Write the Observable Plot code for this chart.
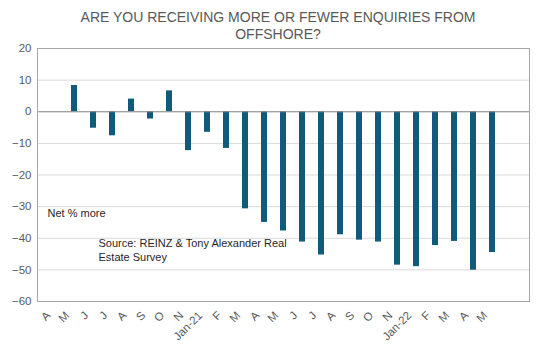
<!DOCTYPE html>
<html>
<head>
<meta charset="utf-8">
<script src="https://cdn.jsdelivr.net/npm/d3@7"></script>
<script src="https://cdn.jsdelivr.net/npm/@observablehq/plot@0.6"></script>
<style>
  body { margin: 0; background: #fff; font-family: "Liberation Sans", Arial, sans-serif; }
  #wrap { width: 540px; height: 350px; position: relative; overflow: hidden; }
  #title { position: absolute; left: 8px; top: 9px; width: 540px; text-align: center;
           font-size: 14px; line-height: 17px; color: #595959; }
  #chart { position: absolute; left: 0; top: 40px; }
</style>
</head>
<body>
<div id="wrap">
  <div id="title">ARE YOU RECEIVING MORE OR FEWER ENQUIRIES FROM<br>OFFSHORE?</div>
  <div id="chart"></div>
</div>
<script>
const months = ["A","M","J","J","A","S","O","N","Jan-21","F","M","A","M","J","J","A","S","O","N","Jan-22","F","M","A","M",""];
const values = [null, 8.3, -5.2, -7.6, 4.0, -2.3, 6.6, -12.3, -6.5, -11.6, -30.7, -35.0, -37.7, -41.2, -45.3, -38.9, -40.6, -41.2, -48.5, -49.0, -42.3, -41.0, -50.1, -44.5, null];
const yTicks = [20, 10, 0, -10, -20, -30, -40, -50, -60];
const noteLabel = "Net % more";
const sourceLabel = "Source: REINZ & Tony Alexander Real\nEstate Survey";

const idx = d3.range(months.length);
const data = idx.filter(i => values[i] != null).map(i => ({i, v: values[i]}));

const chart = Plot.plot({
  width: 540,
  height: 310,
  marginTop: 8,
  marginLeft: 37,
  marginRight: 11,
  marginBottom: 49,
  style: {fontFamily: "'Liberation Sans', Arial, sans-serif", fontSize: "11px", color: "#595959", background: "transparent"},
  x: {type: "band", domain: idx, paddingInner: 0.7, paddingOuter: 0.35, label: null},
  y: {domain: [-60, 20], label: null},
  marks: [
    Plot.gridY(yTicks, {stroke: "#d9d9d9", strokeOpacity: 1}),
    Plot.barY(data, {x: "i", y: "v", fill: "#115a7a"}),
    Plot.ruleY([0], {stroke: "#8c8c8c", strokeWidth: 1}),
    Plot.frame({stroke: "#a6a6a6"}),
    Plot.axisY(yTicks, {tickSize: 0, tickPadding: 6, fill: "#595959", fontSize: 11.5}),
    Plot.axisX(idx, {tickSize: 0, tickPadding: 12, dx: -7, tickRotate: -45, tickFormat: i => months[i], fill: "#595959", fontSize: 11.5}),
    Plot.text([noteLabel], {frameAnchor: "top-left", dx: 10, dy: 161, textAnchor: "start", lineAnchor: "top", fill: "#262626", fontSize: 11}),
    Plot.text([sourceLabel], {frameAnchor: "top-left", dx: 61, dy: 189, textAnchor: "start", lineAnchor: "top", lineHeight: 1.27, fill: "#262626", fontSize: 11})
  ]
});
document.getElementById("chart").appendChild(chart);
</script>
</body>
</html>
